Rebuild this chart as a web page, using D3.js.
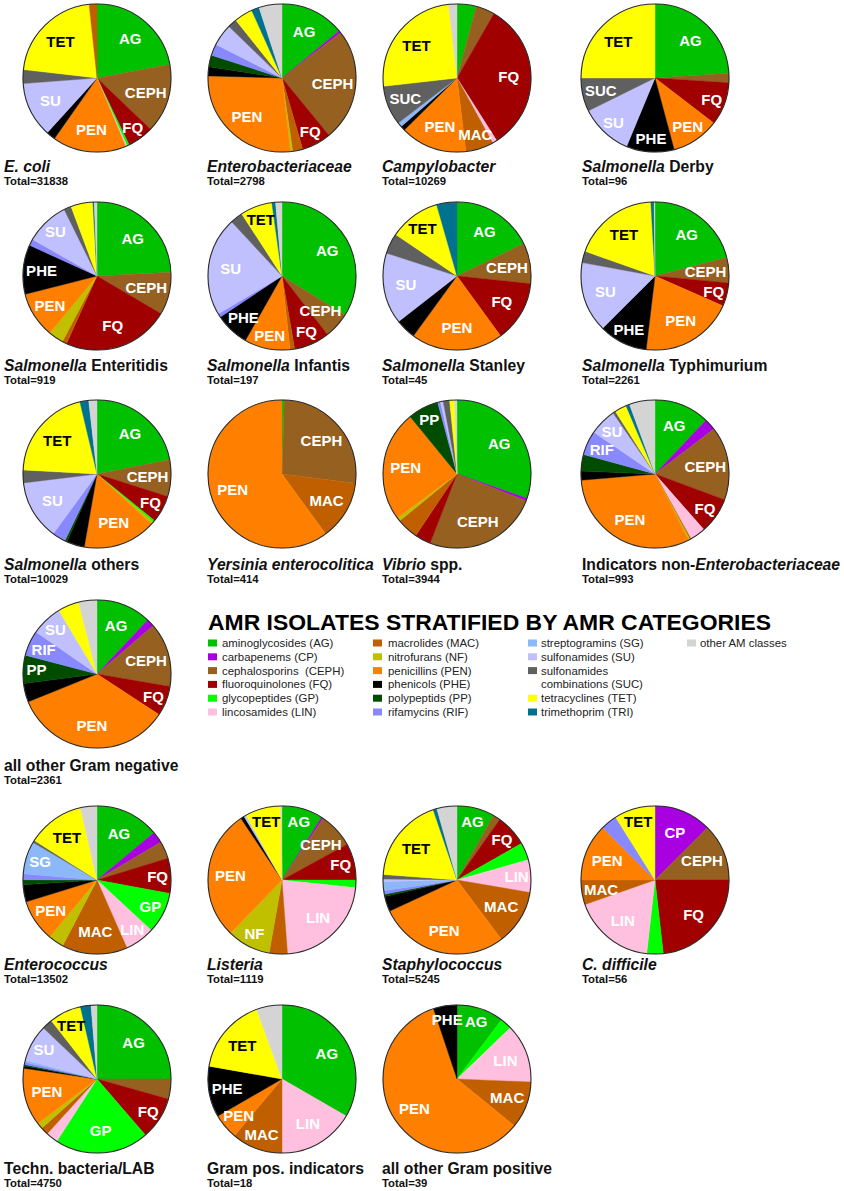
<!DOCTYPE html>
<html><head><meta charset="utf-8">
<script src="https://cdn.jsdelivr.net/npm/d3@7"></script>
<style>
body{margin:0;background:#fff}
svg{display:block;font-family:"Liberation Sans",Arial,Helvetica,sans-serif}
</style>
</head><body>
<svg id="c" width="844" height="1191"></svg>
<script>
// ---------- categories ----------
const categories = ["AG","CP","CEPH","FQ","GP","LIN","MAC","NF","PEN","PHE","PP","RIF","SG","SU","SUC","TET","TRI","other"];
const categoryNames = [["aminoglycosides (AG)"],["carbapenems (CP)"],["cephalosporins  (CEPH)"],["fluoroquinolones (FQ)"],["glycopeptides (GP)"],["lincosamides (LIN)"],
  ["macrolides (MAC)"],["nitrofurans (NF)"],["penicillins (PEN)"],["phenicols (PHE)"],["polypeptids (PP)"],["rifamycins (RIF)"],
  ["streptogramins (SG)"],["sulfonamides (SU)"],["sulfonamides","combinations (SUC)"],["tetracyclines (TET)"],["trimethoprim (TRI)"],["other AM classes"]];
const categoryColors = ["#00c000","#a800e0","#956020","#a00000","#00ff00","#ffc0e0","#c05f00","#c0c000","#ff8000","#000000","#004d00","#8888ff","#8cb8f8","#c0c0ff","#606060","#ffff00","#00728f","#d4d4d4"];

// ---------- pie values (share, drawing order clockwise from 12 o'clock) ----------
const ecoli = [["AG",22],["CEPH",15],["FQ",5.7],["GP",0.5],["LIN",0.3],["PEN",16],["PHE",2],["SU",12],["SUC",3],["TET",21.4],["MAC",1.7]];
const enterobacteriaceae = [["AG",14],["CP",0.5],["CEPH",24.5],["FQ",6.4],["MAC",2.2],["NF",0.5],["PEN",27.2],["PHE",2],["PP",2.5],["RIF",2.5],["SU",4.8],["SUC",2],["TET",4],["TRI",1.7],["other",5]];
const campylobacter = [["AG",4.2],["CEPH",4.1],["FQ",32.7],["LIN",1],["MAC",6.1],["PEN",14.5],["PHE",1],["SG",1],["SUC",8.6],["TET",25],["other",1.8]];
const salmDerby = [["AG",23],["CEPH",2],["FQ",9],["PEN",10],["PHE",10],["SU",11],["SUC",7],["TET",24]];
const salmEnteritidis = [["AG",24.2],["CEPH",9.3],["FQ",23.3],["MAC",1],["NF",3.3],["PEN",10],["PHE",10.8],["RIF",1.4],["SU",9.5],["SUC",1.6],["TET",4.8],["TRI",0.3],["other",0.6]];
const salmInfantis = [["AG",34],["CEPH",5.7],["FQ",7.8],["MAC",1],["PEN",10],["PHE",7.5],["RIF",0.8],["SU",21.7],["SUC",2.8],["TET",7],["TRI",0.8],["other",1.4]];
const salmStanley = [["AG",8],["CEPH",4],["FQ",6],["PEN",9],["PHE",2],["SU",7],["SUC",2],["TET",5],["TRI",2]];
const salmTyphimurium = [["AG",21],["CEPH",5.5],["FQ",5.1],["PEN",20.3],["PHE",10.6],["SU",15.4],["SUC",2.5],["TET",18.7],["TRI",0.7],["other",0.2]];
const salmOthers = [["AG",21.9],["CEPH",8],["FQ",5.9],["GP",0.4],["NF",0.6],["PEN",15.9],["PHE",3.9],["PP",0.5],["RIF",2.9],["SU",13],["SUC",2.8],["TET",20.4],["TRI",1.9],["other",1.8]];
const yersinia = [["AG",0.5],["CEPH",26.5],["MAC",13],["PEN",60]];
const vibrio = [["AG",30.3],["CP",0.6],["CEPH",25],["FQ",3.5],["MAC",4.7],["NF",0.8],["PEN",24.2],["PP",6.7],["RIF",0.6],["SU",0.6],["SUC",1.4],["TET",1.1],["other",0.5]];
const indicatorsNonEntero = [["AG",12.1],["CP",2.5],["CEPH",16.1],["FQ",7.9],["LIN",3.4],["MAC",0.3],["NF",0.3],["PEN",31.2],["PHE",2],["PP",3.6],["RIF",5.3],["SU",5.9],["SUC",0.6],["TET",2.6],["TRI",0.8],["other",5.6]];
const otherGramNeg = [["AG",12],["CP",1.7],["CEPH",14],["FQ",6.5],["PEN",34.6],["PHE",4.1],["PP",6.1],["RIF",5.5],["SU",6.8],["TET",4.6],["other",4]];
const enterococcus = [["AG",14],["CP",2.5],["CEPH",3.8],["FQ",7.7],["GP",9],["LIN",6.5],["MAC",14.3],["NF",3.4],["PEN",9.2],["PHE",3.75],["PP",1.1],["RIF",1.3],["SG",7.1],["SUC",0.5],["TET",12.5],["other",3.6]];
const listeria = [["AG",9],["CP",0.4],["CEPH",7.7],["FQ",8],["GP",1.7],["LIN",22.2],["MAC",4],["NF",9.5],["PEN",28.5],["PHE",0.8],["SU",0.5],["TET",7.8],["other",0.3]];
const staphylococcus = [["AG",8.2],["CEPH",1.6],["FQ",7],["GP",3.8],["LIN",7.1],["MAC",12.1],["PEN",28.3],["PHE",3.3],["PP",0.5],["RIF",0.8],["SG",2],["SU",0.5],["SUC",1],["TET",18.6],["TRI",0.8],["other",4.4]];
const cDifficile = [["CP",7],["CEPH",7],["FQ",13],["GP",2],["LIN",10],["MAC",3],["PEN",7],["RIF",2],["TET",5]];
const technLab = [["AG",25],["CEPH",4.4],["FQ",9.3],["GP",20.5],["LIN",2.6],["MAC",1.7],["NF",1.3],["PEN",12.6],["PHE",0.5],["PP",0.3],["RIF",0.5],["SG",0.5],["SU",8],["SUC",2.3],["TET",7],["TRI",2.3],["other",1.3]];
const gramPosIndicators = [["AG",6],["LIN",3],["MAC",2],["PEN",1],["PHE",2],["TET",3],["other",1]];
const otherGramPos = [["AG",4],["GP",1],["LIN",5],["MAC",4],["PEN",23],["PHE",2]];

// ---------- pie titles and totals ----------
const pieTitles = [
  [["E. coli",1]],[["Enterobacteriaceae",1]],[["Campylobacter",1]],[["Salmonella",1],[" Derby",0]],
  [["Salmonella",1],[" Enteritidis",0]],[["Salmonella",1],[" Infantis",0]],[["Salmonella",1],[" Stanley",0]],[["Salmonella",1],[" Typhimurium",0]],
  [["Salmonella",1],[" others",0]],[["Yersinia enterocolitica",1]],[["Vibrio",1],[" spp.",0]],[["Indicators non-",0],["Enterobacteriaceae",1]],
  [["all other Gram negative",0]],
  [["Enterococcus",1]],[["Listeria",1]],[["Staphylococcus",1]],[["C. difficile",1]],
  [["Techn. bacteria/LAB",0]],[["Gram pos. indicators",0]],[["all other Gram positive",0]]
];
const pieTotals = [31838,2798,10269,96,919,197,45,2261,10029,414,3944,993,2361,13502,1119,5245,56,4750,18,39];
const pieData = [ecoli,enterobacteriaceae,campylobacter,salmDerby,salmEnteritidis,salmInfantis,salmStanley,salmTyphimurium,
  salmOthers,yersinia,vibrio,indicatorsNonEntero,otherGramNeg,enterococcus,listeria,staphylococcus,cDifficile,technLab,gramPosIndicators,otherGramPos];

// ---------- layout (grid cell for each pie) ----------
const pieCells = [[0,0],[1,0],[2,0],[3,0],[0,1],[1,1],[2,1],[3,1],[0,2],[1,2],[2,2],[3,2],[0,3],[0,4],[1,4],[2,4],[3,4],[0,5],[1,5],[2,5]];
const colCx = [97,282,457,655];
const colLabelX = [4,207,382,582];
const rowCy = [78,276,474,674,880,1079];
const rowLabelY = [172,371,570,771,970,1174];
const R = 74;

const svg = d3.select("#c");
const color = d3.scaleOrdinal().domain(categories).range(categoryColors);
const pie = d3.pie().sort(null).value(d => d[1]);
const arc = d3.arc().innerRadius(0).outerRadius(R);

// place a slice label along its mid-angle, as far out as preferred while staying inside the circle
function labelPos(d, share, w) {
  const a = (d.startAngle + d.endAngle) / 2;
  const h = 11;
  let rho = R * (share < 0.12 ? 0.82 : 0.7);
  for (; rho > R * 0.3; rho -= 1) {
    const x = rho * Math.sin(a), y = -rho * Math.cos(a);
    const far = Math.hypot(Math.abs(x) + w / 2, Math.abs(y) + h / 2);
    if (far <= R - 1.5) break;
  }
  return [rho * Math.sin(a), -rho * Math.cos(a)];
}

pieData.forEach((data, i) => {
  const [c, r] = pieCells[i];
  const g = svg.append("g").attr("transform", `translate(${colCx[c]},${rowCy[r]})`);
  const arcs = pie(data);
  const sum = d3.sum(data, d => d[1]);
  g.selectAll("path").data(arcs).join("path")
    .attr("d", arc)
    .attr("fill", d => color(d.data[0]))
    .attr("stroke", d => color(d.data[0]))
    .attr("stroke-width", 0.4);
  g.append("circle").attr("r", R).attr("fill", "none").attr("stroke", "#2a2a2a").attr("stroke-width", 1.1);
  g.selectAll("text.sl").data(arcs.filter(d => d.data[1] / sum >= 0.05 && d.data[0] !== "other"))
    .join("text").attr("class", "sl")
    .attr("text-anchor", "middle").attr("dy", "0.36em")
    .attr("font-size", 15).attr("font-weight", "bold")
    .attr("fill", d => d.data[0] === "TET" ? "#000" : "#fff")
    .text(d => d.data[0])
    .each(function(d) {
      const w = this.getComputedTextLength();
      const [x, y] = labelPos(d, d.data[1] / sum, w);
      d3.select(this).attr("transform", `translate(${x},${y})`);
    });

  const t = svg.append("text").attr("x", colLabelX[c]).attr("y", rowLabelY[r])
    .attr("font-size", 15.7).attr("font-weight", "bold").attr("fill", "#111");
  pieTitles[i].forEach(([s, it]) => t.append("tspan").attr("font-style", it ? "italic" : "normal").text(s));
  svg.append("text").attr("x", colLabelX[c]).attr("y", rowLabelY[r] + 13)
    .attr("font-size", 11.3).attr("font-weight", "bold").attr("fill", "#111")
    .text("Total=" + pieTotals[i]);
});

// ---------- legend ----------
svg.append("text").attr("x", 208).attr("y", 629.7).attr("font-size", 21.5).attr("font-weight", "bold")
  .attr("textLength", 563).attr("lengthAdjust", "spacingAndGlyphs").attr("fill", "#000")
  .text("AMR ISOLATES STRATIFIED BY AMR CATEGORIES");
const legendColumn = [0,0,0,0,0,0,1,1,1,1,1,1,2,2,2,2,2,3];
const legSwX = [208,373,528,687];
const legTxX = [222,388,541,700];
const legRowCounter = [0,0,0,0];
categories.forEach((cat, i) => {
  const col = legendColumn[i];
  const row = legRowCounter[col];
  const cy = 643 + row * 13.8;
  svg.append("rect").attr("x", legSwX[col]).attr("y", cy - 3.5).attr("width", 9).attr("height", 7)
    .attr("fill", color(cat));
  categoryNames[i].forEach((line, k) => {
    svg.append("text").attr("x", legTxX[col]).attr("y", cy + 4 + k * 13.8)
      .attr("font-size", 11.4).attr("fill", "#222").style("white-space", "pre").text(line);
  });
  legRowCounter[col] += categoryNames[i].length;
});
</script>
</body></html>
